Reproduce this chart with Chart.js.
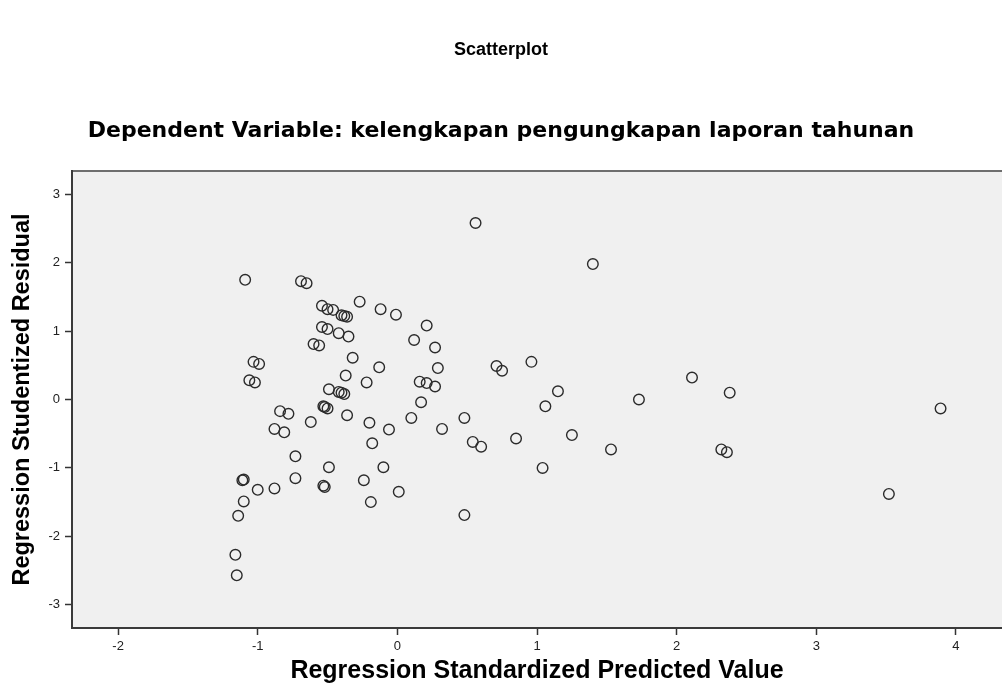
<!DOCTYPE html>
<html lang="id">
<head>
    <meta charset="UTF-8">
    <title>Scatterplot</title>
    <style>
        html, body {
            margin: 0;
            padding: 0;
            overflow: hidden;
            background-color: #fff;
        }
        #scatterChart {
            display: block;
        }
    </style>
</head>
<body>
    <canvas id="scatterChart" width="1002" height="699"></canvas>
    <script src="https://cdn.jsdelivr.net/npm/chart.js"></script>
    <script>
        // nilai dibaca dari gambar SPSS
        const predicted = [
            -1.09, -0.69, -0.65, -0.27, -0.54, -0.50, -0.46, -0.40, -0.38, -0.36,
            -0.12, -0.01, 0.21, -0.54, -0.50, -0.42, -0.35, 0.12, -0.60, -0.56,
            0.27, -0.32, -0.13, 0.29, -1.03, -0.99, -1.06, -1.02, -0.37, -0.22,
            0.16, 0.21, 0.27, -0.49, -0.42, -0.40, -0.38, 0.17, -0.53, -0.52,
            -0.50, -0.36, 0.10, 0.48, -0.84, -0.78, -0.62, -0.20, -0.06, 0.32,
            -0.88, -0.81, -0.18, 0.54, 0.60, -0.73, -0.49, -0.10, -0.73, -1.11,
            -1.10, -1.00, -0.88, -0.53, -0.52, -0.24, 0.01, -0.19, 0.48, -1.10,
            -1.14, -1.16, -1.15, 0.56, 1.40, 0.71, 0.75, 0.96, 1.15, 1.06,
            1.73, 2.11, 0.85, 1.25, 1.53, 1.04, 2.38, 2.32, 2.36, 3.89,
            3.52
        ];
        const residual = [
            1.75, 1.73, 1.70, 1.43, 1.37, 1.32, 1.31, 1.23, 1.22, 1.21,
            1.32, 1.24, 1.08, 1.06, 1.03, 0.97, 0.92, 0.87, 0.81, 0.79,
            0.76, 0.61, 0.47, 0.46, 0.55, 0.52, 0.28, 0.25, 0.35, 0.25,
            0.26, 0.24, 0.19, 0.15, 0.11, 0.10, 0.08, -0.04, -0.10, -0.11,
            -0.13, -0.23, -0.27, -0.27, -0.17, -0.21, -0.33, -0.34, -0.44, -0.43,
            -0.43, -0.48, -0.64, -0.62, -0.69, -0.83, -0.99, -0.99, -1.15, -1.18,
            -1.17, -1.32, -1.30, -1.26, -1.28, -1.18, -1.35, -1.50, -1.69, -1.49,
            -1.70, -2.27, -2.57, 2.58, 1.98, 0.49, 0.42, 0.55, 0.12, -0.10,
            0.00, 0.32, -0.57, -0.52, -0.73, -1.00, 0.10, -0.73, -0.77, -0.13,
            -1.38
        ];
        const xTicks = [-2, -1, 0, 1, 2, 3, 4];
        const yTicks = [-3, -2, -1, 0, 1, 2, 3];

        const plotBg = {
            id: 'plotBg',
            beforeDraw(chart) {
                const { ctx, chartArea: a } = chart;
                ctx.save();
                ctx.fillStyle = '#f0f0f0';
                ctx.fillRect(a.left, a.top, a.right - a.left, a.bottom - a.top);
                ctx.strokeStyle = '#6e6e6e';
                ctx.lineWidth = 2;
                ctx.beginPath();
                ctx.moveTo(a.left, a.top);
                ctx.lineTo(a.right, a.top);
                ctx.stroke();
                ctx.restore();
            }
        };

        function createChart() {
            const ctx = document.getElementById('scatterChart').getContext('2d');
            new Chart(ctx, {
                type: 'scatter',
                data: {
                    datasets: [{
                        data: predicted.map((x, i) => ({ x: x, y: residual[i] })),
                        backgroundColor: 'rgba(0,0,0,0)',
                        borderColor: '#2b2b2b',
                        borderWidth: 1.4,
                        pointRadius: 5.3,
                        pointHoverRadius: 5.3
                    }]
                },
                options: {
                    responsive: false,
                    animation: false,
                    devicePixelRatio: 1,
                    layout: { padding: 0, autoPadding: false },
                    scales: {
                        x: {
                            type: 'linear',
                            min: -2.33,
                            max: 4.33,
                            afterFit: s => { s.height = 71; s.paddingLeft = 0; s.paddingRight = 0; },
                            afterBuildTicks: s => { s.ticks = xTicks.map(v => ({ value: v })); },
                            grid: { drawOnChartArea: false, tickLength: 7, tickColor: '#333', tickWidth: 1.5 },
                            border: { color: '#3a3a3a', width: 2 },
                            ticks: { color: '#222', padding: 4, font: { family: 'Arial, "Liberation Sans"', size: 13 } },
                            title: {
                                display: true,
                                text: 'Regression Standardized Predicted Value',
                                color: '#000',
                                font: { family: 'Arial, "Liberation Sans"', size: 25, weight: 'bold', lineHeight: 1.2 },
                                padding: { top: 1, bottom: 13 }
                            }
                        },
                        y: {
                            min: -3.34,
                            max: 3.34,
                            afterFit: s => { s.width = 72; s.paddingTop = 0; s.paddingBottom = 0; },
                            afterBuildTicks: s => { s.ticks = yTicks.map(v => ({ value: v })); },
                            grid: { drawOnChartArea: false, tickLength: 7, tickColor: '#333', tickWidth: 1.5 },
                            border: { color: '#3a3a3a', width: 2 },
                            ticks: { color: '#222', padding: 5, font: { family: 'Arial, "Liberation Sans"', size: 13 } },
                            title: {
                                display: true,
                                text: 'Regression Studentized Residual',
                                color: '#000',
                                font: { family: 'Arial, "Liberation Sans"', size: 23.5, weight: 'bold', lineHeight: 1.2 },
                                padding: { top: 8, bottom: 0 }
                            }
                        }
                    },
                    plugins: {
                        legend: { display: false },
                        tooltip: { enabled: false },
                        title: {
                            display: true,
                            text: 'Scatterplot',
                            color: '#000',
                            font: { family: 'Arial, "Liberation Sans"', size: 18, weight: 'bold', lineHeight: 1.2 },
                            padding: { top: 39, bottom: 57 }
                        },
                        subtitle: {
                            display: true,
                            text: 'Dependent Variable: kelengkapan pengungkapan laporan tahunan',
                            color: '#000',
                            font: { family: '"DejaVu Sans"', size: 22, weight: 'bold', lineHeight: 1.2 },
                            padding: { top: 0, bottom: 27 }
                        }
                    }
                },
                plugins: [plotBg]
            });
        }

        document.addEventListener('DOMContentLoaded', () => {
            createChart();
        });
    </script>
</body>
</html>
